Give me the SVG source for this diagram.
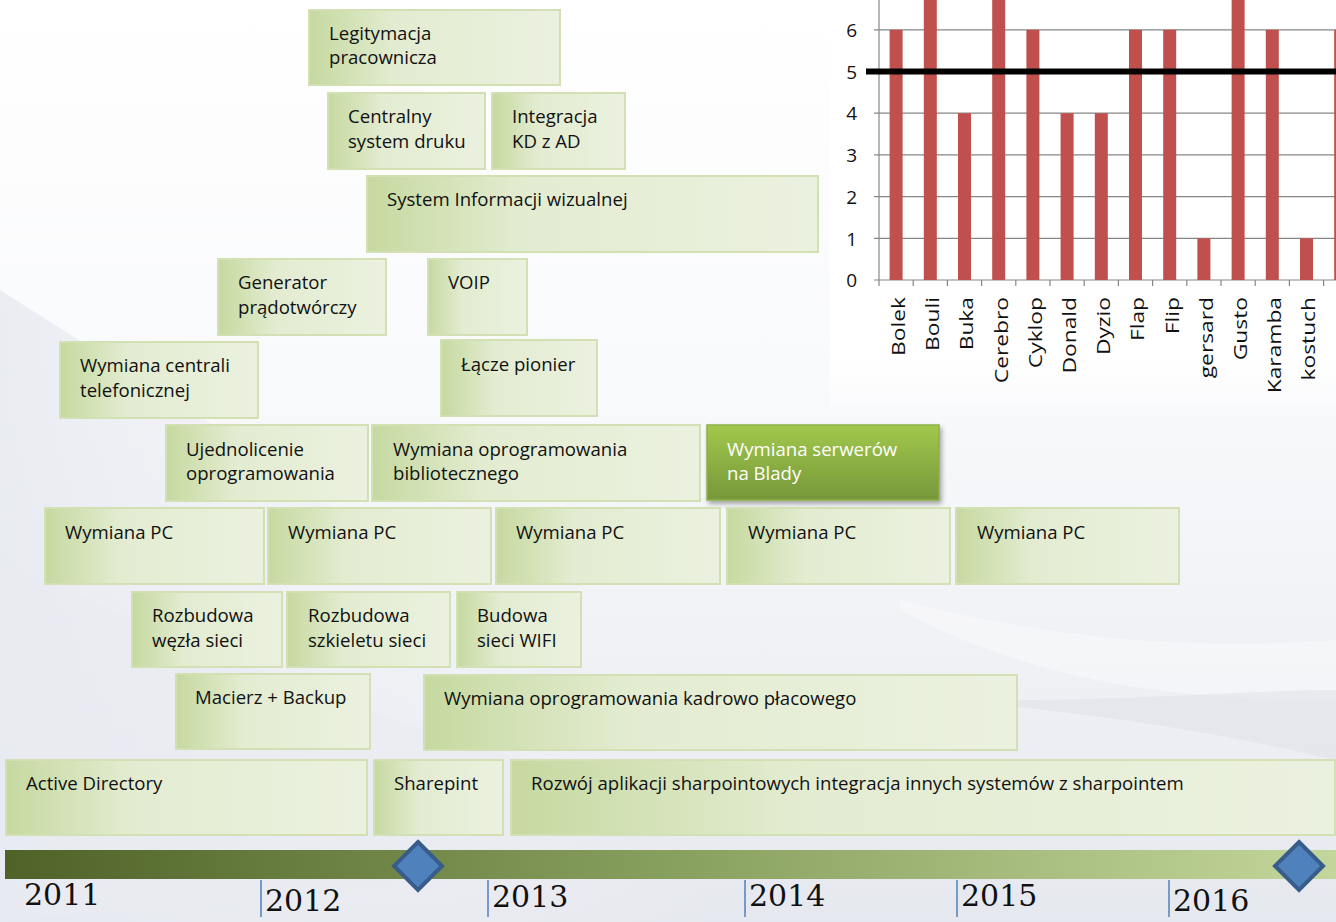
<svg xmlns="http://www.w3.org/2000/svg" width="1336" height="922" viewBox="0 0 1336 922">
<defs>
<linearGradient id="bg" x1="0" y1="0" x2="0" y2="1">
<stop offset="0" stop-color="#FFFFFF"/>
<stop offset="0.45" stop-color="#F8F9FB"/>
<stop offset="1" stop-color="#E6E8EF"/>
</linearGradient>
<linearGradient id="swL" x1="0" y1="0" x2="1" y2="0">
<stop offset="0" stop-color="#E6E9F0"/>
<stop offset="1" stop-color="#F6F7FA" stop-opacity="0"/>
</linearGradient>
<linearGradient id="chbg" x1="0" y1="0" x2="0" y2="1">
<stop offset="0" stop-color="#FFFFFF"/>
<stop offset="0.85" stop-color="#FFFFFF"/>
<stop offset="1" stop-color="#FFFFFF" stop-opacity="0"/>
</linearGradient>
<linearGradient id="boxg" x1="0" y1="0" x2="1" y2="0">
<stop offset="0" stop-color="#C6D9A0"/>
<stop offset="0.35" stop-color="#E3ECD1"/>
<stop offset="1" stop-color="#EBF1DF"/>
</linearGradient>
<linearGradient id="hot" x1="0" y1="0" x2="0" y2="1">
<stop offset="0" stop-color="#A2C84C"/>
<stop offset="1" stop-color="#76973A"/>
</linearGradient>
<linearGradient id="bar" x1="0" y1="0" x2="1" y2="0">
<stop offset="0" stop-color="#4F6228"/>
<stop offset="0.5" stop-color="#88A05E"/>
<stop offset="1" stop-color="#C3D69B"/>
</linearGradient>
<filter id="sh" x="-10%" y="-10%" width="125%" height="130%">
<feDropShadow dx="2" dy="3" stdDeviation="2.5" flood-color="#000" flood-opacity="0.35"/>
</filter>
<style>
.box{fill:url(#boxg);stroke:#D2E0B4;stroke-width:2}
.t{font-family:"Open Sans","Liberation Sans",sans-serif;font-size:18.6px;fill:#111}
.tw{font-family:"Open Sans","Liberation Sans",sans-serif;font-size:18.6px;fill:#FFFFFF}
.grid{stroke:#868686;stroke-width:1.2}
.rb{fill:#C0504D}
.yl{font-family:"Open Sans","Liberation Sans",sans-serif;font-size:19px;fill:#111;text-anchor:end}
.cl{font-family:"Open Sans","Liberation Sans",sans-serif;font-size:19px;fill:#111;text-anchor:end}
.yr{font-family:"DejaVu Serif","Liberation Serif",serif;font-size:30px;fill:#111}
.tick{stroke:#4F81BD;stroke-width:1.5}
.dia{fill:#4F81BD;stroke:#385D8A;stroke-width:4}
</style>
</defs>

<!-- background -->
<rect x="0" y="0" width="1336" height="922" fill="url(#bg)"/>
<path d="M0,290 L300,480 L560,700 L720,922 L0,922 Z" fill="url(#swL)" opacity="0.8"/>
<path d="M0,560 C300,700 600,800 900,840 L0,922 Z" fill="#E9EBF1" opacity="0.6"/>
<path d="M900,600 C1050,640 1200,650 1336,640 L1336,700 C1200,700 1050,690 900,610 Z" fill="#FFFFFF" opacity="0.35"/>
<path d="M1000,700 C1150,700 1250,690 1336,690 L1336,760 C1250,740 1150,720 1000,705 Z" fill="#DDDFE6" opacity="0.5"/>

<!-- chart -->
<g id="chart">
<rect x="830" y="0" width="506" height="420" fill="url(#chbg)"/>
<g class="grid">
<line x1="874" y1="29.8" x2="1336" y2="29.8"/>
<line x1="874" y1="113.2" x2="1336" y2="113.2"/>
<line x1="874" y1="154.9" x2="1336" y2="154.9"/>
<line x1="874" y1="196.6" x2="1336" y2="196.6"/>
<line x1="874" y1="238.3" x2="1336" y2="238.3"/>
<line x1="874" y1="280" x2="1336" y2="280"/>
<line x1="879" y1="0" x2="879" y2="286"/>
<line x1="913.2" y1="280" x2="913.2" y2="286"/>
<line x1="947.4" y1="280" x2="947.4" y2="286"/>
<line x1="981.6" y1="280" x2="981.6" y2="286"/>
<line x1="1015.8" y1="280" x2="1015.8" y2="286"/>
<line x1="1050" y1="280" x2="1050" y2="286"/>
<line x1="1084.2" y1="280" x2="1084.2" y2="286"/>
<line x1="1118.4" y1="280" x2="1118.4" y2="286"/>
<line x1="1152.6" y1="280" x2="1152.6" y2="286"/>
<line x1="1186.8" y1="280" x2="1186.8" y2="286"/>
<line x1="1221" y1="280" x2="1221" y2="286"/>
<line x1="1255.2" y1="280" x2="1255.2" y2="286"/>
<line x1="1289.4" y1="280" x2="1289.4" y2="286"/>
<line x1="1323.6" y1="280" x2="1323.6" y2="286"/>
</g>
<g>
<rect class="rb" x="889.6" y="29.8" width="13" height="250.2"/>
<rect class="rb" x="923.8" y="-12" width="13" height="292"/>
<rect class="rb" x="958" y="113.2" width="13" height="166.8"/>
<rect class="rb" x="992.2" y="-12" width="13" height="292"/>
<rect class="rb" x="1026.4" y="29.8" width="13" height="250.2"/>
<rect class="rb" x="1060.6" y="113.2" width="13" height="166.8"/>
<rect class="rb" x="1094.8" y="113.2" width="13" height="166.8"/>
<rect class="rb" x="1129" y="29.8" width="13" height="250.2"/>
<rect class="rb" x="1163.2" y="29.8" width="13" height="250.2"/>
<rect class="rb" x="1197.4" y="238.3" width="13" height="41.7"/>
<rect class="rb" x="1231.6" y="-12" width="13" height="292"/>
<rect class="rb" x="1265.8" y="29.8" width="13" height="250.2"/>
<rect class="rb" x="1300" y="238.3" width="13" height="41.7"/>
<rect class="rb" x="1334.2" y="29.8" width="13" height="250.2"/>
</g>
<line x1="866" y1="71.5" x2="1336" y2="71.5" stroke="#000" stroke-width="6"/>
<g>
<text class="yl" x="857" y="37">6</text>
<text class="yl" x="857" y="78.5">5</text>
<text class="yl" x="857" y="120">4</text>
<text class="yl" x="857" y="162">3</text>
<text class="yl" x="857" y="204">2</text>
<text class="yl" x="857" y="245.5">1</text>
<text class="yl" x="857" y="287">0</text>
</g>
<g>
<text class="cl" transform="translate(905,297) rotate(-90) scale(1.2,1)">Bolek</text>
<text class="cl" transform="translate(939.2,297) rotate(-90) scale(1.2,1)">Bouli</text>
<text class="cl" transform="translate(973.4,297) rotate(-90) scale(1.2,1)">Buka</text>
<text class="cl" transform="translate(1007.6,297) rotate(-90) scale(1.2,1)">Cerebro</text>
<text class="cl" transform="translate(1041.8,297) rotate(-90) scale(1.2,1)">Cyklop</text>
<text class="cl" transform="translate(1076,297) rotate(-90) scale(1.2,1)">Donald</text>
<text class="cl" transform="translate(1110.2,297) rotate(-90) scale(1.2,1)">Dyzio</text>
<text class="cl" transform="translate(1144.4,297) rotate(-90) scale(1.2,1)">Flap</text>
<text class="cl" transform="translate(1178.6,297) rotate(-90) scale(1.2,1)">Flip</text>
<text class="cl" transform="translate(1212.8,297) rotate(-90) scale(1.2,1)">gersard</text>
<text class="cl" transform="translate(1247,297) rotate(-90) scale(1.2,1)">Gusto</text>
<text class="cl" transform="translate(1281.2,297) rotate(-90) scale(1.2,1)">Karamba</text>
<text class="cl" transform="translate(1315.4,297) rotate(-90) scale(1.2,1)">kostuch</text>
</g>
</g>

<!-- boxes -->
<g id="n1"><rect class="box" x="309" y="10" width="251" height="75"/><text class="t" x="329" y="40">Legitymacja</text><text class="t" x="329" y="64">pracownicza</text></g>
<g id="n2"><rect class="box" x="328" y="93" width="157" height="76"/><text class="t" x="348" y="123">Centralny</text><text class="t" x="348" y="148">system druku</text></g>
<g id="n3"><rect class="box" x="492" y="93" width="133" height="76"/><text class="t" x="512" y="123">Integracja</text><text class="t" x="512" y="148">KD z AD</text></g>
<g id="n4"><rect class="box" x="367" y="176" width="451" height="76"/><text class="t" x="387" y="206">System Informacji wizualnej</text></g>
<g id="n5"><rect class="box" x="218" y="259" width="168" height="76"/><text class="t" x="238" y="289">Generator</text><text class="t" x="238" y="314">prądotwórczy</text></g>
<g id="n6"><rect class="box" x="428" y="259" width="99" height="76"/><text class="t" x="448" y="289">VOIP</text></g>
<g id="n7"><rect class="box" x="60" y="342" width="198" height="76"/><text class="t" x="80" y="372">Wymiana centrali</text><text class="t" x="80" y="397">telefonicznej</text></g>
<g id="n8"><rect class="box" x="441" y="340" width="156" height="76"/><text class="t" x="461" y="371">Łącze pionier</text></g>
<g id="n9"><rect class="box" x="166" y="425" width="202" height="76"/><text class="t" x="186" y="456">Ujednolicenie</text><text class="t" x="186" y="480">oprogramowania</text></g>
<g id="n10"><rect class="box" x="372" y="425" width="328" height="76"/><text class="t" x="393" y="456">Wymiana oprogramowania</text><text class="t" x="393" y="480">bibliotecznego</text></g>
<g id="n11"><rect x="707" y="425" width="232" height="75" fill="url(#hot)" stroke="#8AB145" stroke-width="1.5" filter="url(#sh)"/><text class="tw" x="727" y="456">Wymiana serwerów</text><text class="tw" x="727" y="480">na Blady</text></g>
<g id="n12"><rect class="box" x="45" y="508" width="219" height="76"/><text class="t" x="65" y="539">Wymiana PC</text></g>
<g id="n13"><rect class="box" x="268" y="508" width="223" height="76"/><text class="t" x="288" y="539">Wymiana PC</text></g>
<g id="n14"><rect class="box" x="496" y="508" width="224" height="76"/><text class="t" x="516" y="539">Wymiana PC</text></g>
<g id="n15"><rect class="box" x="727" y="508" width="223" height="76"/><text class="t" x="748" y="539">Wymiana PC</text></g>
<g id="n16"><rect class="box" x="956" y="508" width="223" height="76"/><text class="t" x="977" y="539">Wymiana PC</text></g>
<g id="n17"><rect class="box" x="132" y="592" width="150" height="75"/><text class="t" x="152" y="622">Rozbudowa</text><text class="t" x="152" y="647">węzła sieci</text></g>
<g id="n18"><rect class="box" x="287" y="592" width="163" height="75"/><text class="t" x="308" y="622">Rozbudowa</text><text class="t" x="308" y="647">szkieletu sieci</text></g>
<g id="n19"><rect class="box" x="457" y="592" width="124" height="75"/><text class="t" x="477" y="622">Budowa</text><text class="t" x="477" y="647">sieci WIFI</text></g>
<g id="n20"><rect class="box" x="176" y="674" width="194" height="75"/><text class="t" x="195" y="704">Macierz + Backup</text></g>
<g id="n21"><rect class="box" x="424" y="675" width="593" height="75"/><text class="t" x="444" y="705">Wymiana oprogramowania kadrowo płacowego</text></g>
<g id="n22"><rect class="box" x="6" y="760" width="361" height="75"/><text class="t" x="26" y="790">Active Directory</text></g>
<g id="n23"><rect class="box" x="374" y="760" width="129" height="75"/><text class="t" x="394" y="790">Sharepint</text></g>
<g id="n24"><rect class="box" x="511" y="760" width="824" height="75"/><text class="t" x="531" y="790">Rozwój aplikacji sharpointowych integracja innych systemów z sharpointem</text></g>

<!-- timeline -->
<g id="timeline">
<rect x="5" y="850" width="1331" height="29" fill="url(#bar)"/>
<line class="tick" x1="261" y1="880" x2="261" y2="917"/>
<line class="tick" x1="488" y1="880" x2="488" y2="917"/>
<line class="tick" x1="745" y1="880" x2="745" y2="917"/>
<line class="tick" x1="957" y1="880" x2="957" y2="917"/>
<line class="tick" x1="1169" y1="880" x2="1169" y2="917"/>
<text class="yr" x="24" y="905">2011</text>
<text class="yr" x="265" y="911">2012</text>
<text class="yr" x="492" y="907">2013</text>
<text class="yr" x="749" y="906">2014</text>
<text class="yr" x="961" y="906">2015</text>
<text class="yr" x="1173" y="911">2016</text>
</g>
<g id="m1"><polygon class="dia" points="418,842 442,866 418,890 394,866"/></g>
<g id="m2"><polygon class="dia" points="1299,842 1323,866 1299,890 1275,866"/></g>
</svg>
